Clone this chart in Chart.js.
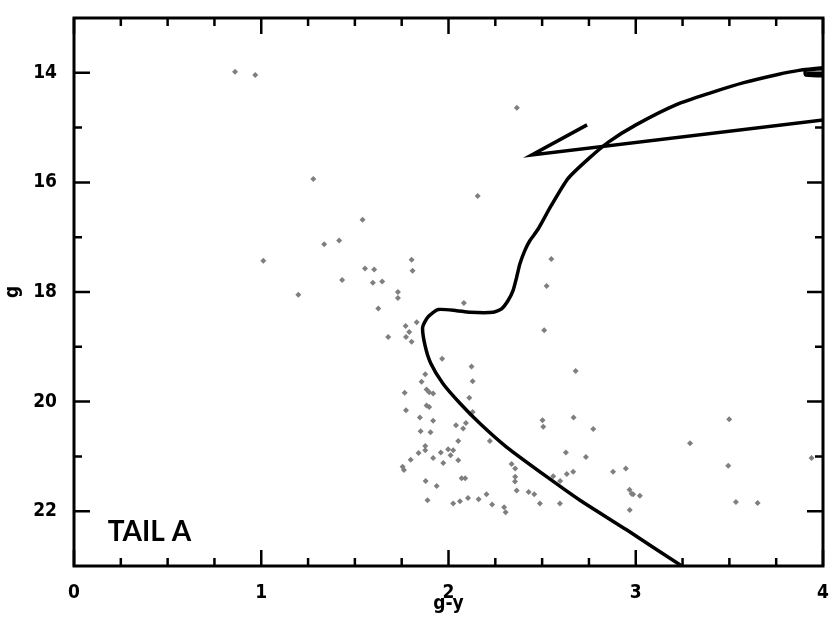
<!DOCTYPE html>
<html>
<head>
<meta charset="utf-8">
<script src="https://cdn.jsdelivr.net/npm/chart.js@4.4.0/dist/chart.umd.min.js"></script>
<style>
  html, body { margin: 0; padding: 0; background: #fff; }
  canvas { display: block; }
</style>
</head>
<body>
<canvas id="cmd" width="833" height="623"></canvas>
<script>
// stars (g-y, g)
const starX = [0.860, 0.968, 1.278, 1.541, 1.336, 1.416, 1.011, 1.803, 1.554, 1.603,
  1.808, 1.432, 1.596, 1.646, 1.198, 1.730, 1.730, 1.625, 1.771, 1.830,
  1.790, 1.678, 1.773, 1.803, 1.966, 2.082, 2.511, 2.123, 1.876, 2.679,
  2.129, 1.856, 1.883, 1.918, 1.897, 1.766, 2.111, 1.883, 1.897, 1.773,
  2.129, 1.847, 1.918, 2.502, 2.668, 2.506, 2.773, 2.040, 2.093, 2.078,
  1.851, 1.904, 2.052, 2.221, 1.876, 1.876, 1.840, 1.959, 1.998, 2.025,
  2.011, 2.627, 2.734, 1.918, 1.798, 2.052, 1.972, 2.337, 2.356, 1.755,
  1.762, 2.559, 2.596, 2.632, 2.666, 2.879, 2.947, 2.356, 2.355, 2.070,
  2.089, 1.878, 1.937, 2.364, 2.428, 2.458, 2.967, 2.978, 3.022, 2.986,
  1.888, 2.104, 2.161, 2.203, 2.061, 2.025, 2.233, 2.488, 2.595, 2.297,
  2.305, 2.968, 2.365, 2.156, 2.549, 2.524, 3.499, 3.290, 3.494, 3.535,
  3.651, 3.939];
const starY = [13.98, 14.04, 15.94, 16.68, 17.13, 17.06, 17.43, 17.41, 17.57, 17.59,
  17.61, 17.78, 17.83, 17.81, 18.05, 18.00, 18.11, 18.30, 18.62, 18.55,
  18.73, 18.82, 18.82, 18.91, 19.22, 18.20, 18.70, 19.36, 19.50, 19.44,
  19.63, 19.64, 19.78, 19.85, 19.83, 19.84, 19.93, 20.07, 20.10, 20.16,
  20.19, 20.29, 20.35, 20.34, 20.29, 20.46, 20.50, 20.43, 20.39, 20.49,
  20.54, 20.56, 20.72, 20.72, 20.81, 20.89, 20.94, 20.93, 20.87, 20.89,
  20.98, 20.93, 21.01, 21.03, 21.06, 21.07, 21.12, 21.14, 21.22, 21.19,
  21.25, 21.36, 21.45, 21.32, 21.28, 21.28, 21.22, 21.37, 21.46, 21.40,
  21.40, 21.45, 21.54, 21.62, 21.65, 21.69, 21.61, 21.68, 21.72, 21.69,
  21.80, 21.76, 21.78, 21.69, 21.82, 21.86, 21.88, 21.86, 21.86, 21.93,
  22.02, 21.98, 14.64, 16.25, 17.40, 17.89, 20.32, 20.76, 21.17, 21.83,
  21.85, 21.03];

// isochrone: main sequence -> turnoff -> subgiant -> giant branch
const isoX = [3.30, 3.246, 2.951, 2.702, 2.524, 2.310, 2.168, 2.061, 1.970, 1.905,
  1.875, 1.862, 1.892, 1.945, 2.043, 2.114, 2.239, 2.283, 2.319, 2.345,
  2.364, 2.381, 2.408, 2.435, 2.477, 2.549, 2.638, 2.747, 2.856, 3.001,
  3.217, 3.396, 3.577, 3.759, 3.865, 3.999, 4.10, 4.10, 3.908, 3.908, 4.10];
const isoY = [23.10, 23.00, 22.34, 21.80, 21.37, 20.83, 20.40, 20.03, 19.67, 19.30,
  18.98, 18.64, 18.45, 18.32, 18.34, 18.37, 18.37, 18.31, 18.15, 17.97,
  17.73, 17.49, 17.24, 17.06, 16.86, 16.42, 15.93, 15.57, 15.26, 14.95,
  14.58, 14.37, 14.18, 14.03, 13.96, 13.91, 13.89, 14.04, 14.04, 13.95, 13.91];

// horizontal branch segment
const hbX = [4.10, 2.445, 2.740];
const hbY = [14.82, 15.50, 14.95];

const xTicks = [0, 1, 2, 3, 4];
const xMinor = [0.25, 0.5, 0.75, 1.25, 1.5, 1.75, 2.25, 2.5, 2.75, 3.25, 3.5, 3.75];
const yTicks = [14, 16, 18, 20, 22];
const yMinor = [15, 17, 19, 21];

const label = 'TAIL A';

const pts = (xs, ys) => xs.map((v, i) => ({ x: v, y: ys[i] }));
const tickFont = { family: "'Liberation Sans Narrow', 'DejaVu Sans Condensed', 'Liberation Sans', sans-serif", size: 19, weight: 'bold' };

const frame = {
  id: 'frame',
  afterDatasetsDraw(chart) {
    const { ctx, chartArea: a, scales: { x, y } } = chart;
    ctx.save();
    ctx.strokeStyle = '#000';
    ctx.lineCap = 'butt';
    ctx.lineWidth = 2.5;
    ctx.beginPath();
    const xt = (vals, len) => vals.forEach(v => {
      const px = x.getPixelForValue(v);
      ctx.moveTo(px, a.bottom); ctx.lineTo(px, a.bottom - len);
      ctx.moveTo(px, a.top); ctx.lineTo(px, a.top + len);
    });
    const yt = (vals, len) => vals.forEach(v => {
      const py = y.getPixelForValue(v);
      ctx.moveTo(a.left, py); ctx.lineTo(a.left + len, py);
      ctx.moveTo(a.right, py); ctx.lineTo(a.right - len, py);
    });
    xt(xTicks, 16); xt(xMinor, 8);
    yt(yTicks, 16); yt(yMinor, 8);
    ctx.stroke();
    ctx.lineWidth = 3;
    ctx.strokeRect(a.left, a.top, a.right - a.left, a.bottom - a.top);

    ctx.fillStyle = '#000';
    ctx.font = 'bold 28px Lato, sans-serif';
    ctx.textBaseline = 'alphabetic';
    ctx.textAlign = 'left';
    ctx.fillText(label, x.getPixelForValue(0.18), y.getPixelForValue(22.54));
    ctx.restore();
  }
};

new Chart(document.getElementById('cmd'), {
  type: 'scatter',
  data: {
    datasets: [
      {
        data: pts(isoX, isoY),
        showLine: true,
        borderColor: '#000',
        borderWidth: 3.5,
        pointRadius: 0,
        tension: 0.2,
        order: 1
      },
      {
        data: pts(hbX, hbY),
        showLine: true,
        borderColor: '#000',
        borderWidth: 3.5,
        pointRadius: 0,
        tension: 0,
        order: 1
      },
      {
        data: pts(starX, starY),
        pointStyle: 'rectRot',
        pointRadius: 3,
        backgroundColor: '#7f7f7f',
        borderWidth: 0,
        order: 2
      }
    ]
  },
  options: {
    responsive: false,
    animation: false,
    layout: { padding: { top: 18, right: 10, left: 0, bottom: 0 } },
    plugins: { legend: { display: false }, tooltip: { enabled: false } },
    scales: {
      x: {
        type: 'linear',
        min: 0,
        max: 4,
        afterBuildTicks: s => { s.ticks = xTicks.map(v => ({ value: v })); },
        afterFit: s => { s.height = 57; s.paddingLeft = 0; s.paddingRight = 0; },
        grid: { display: false },
        border: { display: false },
        ticks: { color: '#000', font: tickFont, padding: 8, maxRotation: 0 },
        title: { display: true, text: 'g-y', color: '#000', font: tickFont, padding: { top: 0, bottom: 8 } }
      },
      y: {
        type: 'linear',
        reverse: true,
        min: 13,
        max: 23,
        afterBuildTicks: s => { s.ticks = yTicks.map(v => ({ value: v })); },
        afterFit: s => { s.width = 74; s.paddingTop = 0; s.paddingBottom = 0; },
        grid: { display: false },
        border: { display: false },
        ticks: { color: '#000', font: tickFont, padding: 9 },
        title: { display: true, text: 'g', color: '#000', font: tickFont, padding: { top: 2, bottom: 0 } }
      }
    }
  },
  plugins: [frame]
});
</script>
</body>
</html>
